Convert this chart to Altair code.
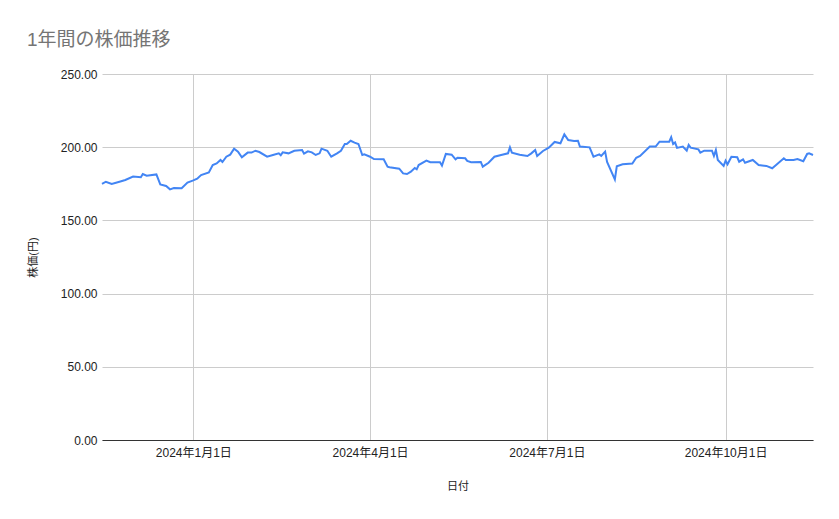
import altair as alt
import pandas as pd

dates = [
    "2023-11-15", "2023-11-17", "2023-11-20", "2023-11-24", "2023-11-27",
    "2023-12-01", "2023-12-05", "2023-12-06", "2023-12-08", "2023-12-13",
    "2023-12-15", "2023-12-18", "2023-12-20", "2023-12-22", "2023-12-26",
    "2023-12-29", "2024-01-01", "2024-01-03", "2024-01-05", "2024-01-09",
    "2024-01-11", "2024-01-13", "2024-01-15", "2024-01-16", "2024-01-18",
    "2024-01-20", "2024-01-22", "2024-01-24", "2024-01-26", "2024-01-29",
    "2024-01-31", "2024-02-02", "2024-02-04", "2024-02-08", "2024-02-11",
    "2024-02-14", "2024-02-15", "2024-02-16", "2024-02-19", "2024-02-22",
    "2024-02-26", "2024-02-27", "2024-02-29", "2024-03-02", "2024-03-04",
    "2024-03-06", "2024-03-07", "2024-03-10", "2024-03-12", "2024-03-15",
    "2024-03-17", "2024-03-19", "2024-03-20", "2024-03-22", "2024-03-24",
    "2024-03-26", "2024-03-28", "2024-03-29", "2024-04-01", "2024-04-03",
    "2024-04-08", "2024-04-10", "2024-04-11", "2024-04-16", "2024-04-18",
    "2024-04-20", "2024-04-22", "2024-04-24", "2024-04-25", "2024-04-26",
    "2024-04-30", "2024-05-02", "2024-05-07", "2024-05-08", "2024-05-10",
    "2024-05-13", "2024-05-15", "2024-05-16", "2024-05-20", "2024-05-21",
    "2024-05-23", "2024-05-28", "2024-05-29", "2024-06-01", "2024-06-04",
    "2024-06-08", "2024-06-11", "2024-06-12", "2024-06-13", "2024-06-17",
    "2024-06-21", "2024-06-23", "2024-06-25", "2024-06-26", "2024-06-29",
    "2024-07-02", "2024-07-05", "2024-07-08", "2024-07-10", "2024-07-12",
    "2024-07-15", "2024-07-17", "2024-07-18", "2024-07-23", "2024-07-25",
    "2024-07-28", "2024-07-29", "2024-07-31", "2024-08-01", "2024-08-05",
    "2024-08-06", "2024-08-09", "2024-08-14", "2024-08-16", "2024-08-18",
    "2024-08-23", "2024-08-26", "2024-08-28", "2024-09-02", "2024-09-03",
    "2024-09-04", "2024-09-05", "2024-09-06", "2024-09-09", "2024-09-11",
    "2024-09-12", "2024-09-13", "2024-09-17", "2024-09-18", "2024-09-20",
    "2024-09-24", "2024-09-25", "2024-09-26", "2024-09-27", "2024-09-30",
    "2024-10-01", "2024-10-02", "2024-10-04", "2024-10-07", "2024-10-08",
    "2024-10-10", "2024-10-11", "2024-10-15", "2024-10-18", "2024-10-22",
    "2024-10-25", "2024-10-27", "2024-10-31", "2024-11-01", "2024-11-05",
    "2024-11-07", "2024-11-10", "2024-11-12", "2024-11-13", "2024-11-15",
]

prices = [
    174.9, 176.4, 174.9, 176.4, 177.6,
    179.9, 179.5, 181.7, 180.5, 181.4,
    174.6, 173.5, 171.2, 172.1, 171.9,
    175.8, 177.3, 178.5, 181.0, 182.8,
    187.8, 188.9, 191.3, 189.9, 193.5,
    194.9, 199.0, 197.0, 193.1, 196.3,
    196.3, 197.6, 196.7, 193.5, 194.7,
    195.8, 194.5, 196.5, 195.8, 197.6,
    198.1, 195.6, 197.2, 196.5, 194.7,
    195.8, 199.0, 197.6, 193.5, 195.8,
    197.6, 202.2, 202.2, 204.4, 203.1,
    202.2, 194.7, 195.1, 193.5, 191.9,
    191.7, 186.7, 186.3, 185.3, 182.1,
    181.7, 183.3, 185.8, 184.9, 187.8,
    190.8, 189.7, 189.7, 187.4, 195.4,
    194.9, 191.7, 192.8, 192.4, 190.6,
    189.7, 189.9, 186.7, 189.4, 193.5,
    194.9, 195.8, 199.9, 196.3, 194.9,
    194.0, 195.8, 198.1, 194.0, 197.4,
    199.7, 203.6, 202.7, 208.8, 204.9,
    204.2, 204.4, 200.4, 199.9, 193.5,
    195.1, 194.0, 197.0, 190.0, 178.0,
    187.0, 188.3, 188.9, 192.8, 194.0,
    200.4, 200.4, 203.8, 203.8, 206.8,
    202.2, 203.3, 199.5, 200.4, 197.6,
    201.5, 199.7, 198.5, 196.3, 197.6,
    197.6, 194.0, 198.1, 191.3, 187.2,
    190.8, 188.3, 193.5, 193.1, 190.1,
    191.7, 189.4, 191.3, 187.8, 187.2,
    185.6, 187.8, 192.4, 191.3, 191.3,
    191.9, 190.4, 195.4, 195.8, 194.7,
]

tick_dates = [(2024, 1), (2024, 4), (2024, 7), (2024, 10)]

df = pd.DataFrame({"日付": dates, "株価": prices})

font = "Liberation Sans, Noto Sans CJK JP, sans-serif"

chart = (
    alt.Chart(df)
    .mark_line(color="#4285F4", strokeWidth=2)
    .encode(
        alt.X("日付:T")
        .scale(
            type="utc",
            domain=[
                alt.DateTime(year=2023, month=11, date=15, utc=True),
                alt.DateTime(year=2024, month=11, date=15, utc=True),
            ],
            nice=False,
        )
        .axis(
            values=[alt.DateTime(year=y, month=m, date=1, utc=True) for y, m in tick_dates],
            format="%Y年%-m月%-d日",
            title="日付",
            titleX=355.5,
            titleY=46,
            titleAlign="center",
            titleBaseline="middle",
            labelPadding=7,
            domainColor="#333333",
        ),
        alt.Y("株価:Q")
        .scale(domain=[0, 250], nice=False)
        .axis(
            values=[0, 50, 100, 150, 200, 250],
            format=".2f",
            title="株価(円)",
            titleX=-69,
            titleY=183,
            titleAlign="center",
            titleBaseline="middle",
            labelPadding=5,
            domain=False,
        ),
    )
    .properties(
        width=711,
        height=366,
        title=alt.Title(
            "1年間の株価推移",
            anchor="start",
            frame="group",
            dx=-75,
            dy=-14,
            fontSize=19,
            fontWeight="normal",
            color="#757575",
            font=font,
        ),
        autosize=alt.AutoSizeParams(type="none"),
        padding={"left": 94, "top": 66, "right": 10, "bottom": 60},
    )
    .configure_view(stroke=None)
    .configure_axis(
        grid=True,
        gridColor="#cccccc",
        ticks=False,
        labelFont=font,
        labelFontSize=12,
        labelColor="#222222",
        titleFont=font,
        titleFontSize=11,
        titleFontWeight="normal",
        titleColor="#222222",
    )
)

chart.save("out.html", embed_options={"renderer": "svg", "actions": False})
